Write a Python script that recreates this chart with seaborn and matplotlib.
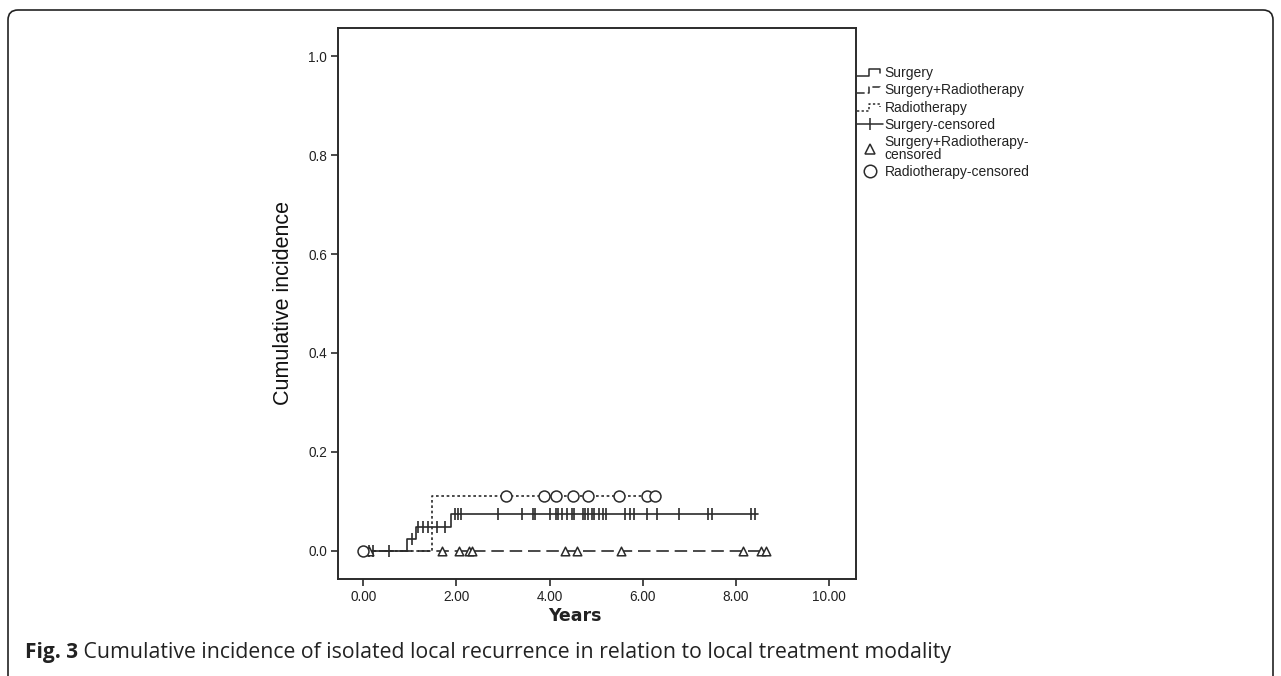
import matplotlib
matplotlib.use("Agg")
import matplotlib.pyplot as plt
import numpy as np
import pandas as pd
import seaborn as sns
from matplotlib.lines import Line2D
from matplotlib.legend_handler import HandlerBase
from matplotlib.patches import FancyBboxPatch
from matplotlib.transforms import IdentityTransform

# step curves (time in years, cumulative incidence)
surg_time = [0.0, 0.94, 1.13, 1.89, 8.48]
surg_ci = [0.0, 0.023, 0.048, 0.075, 0.075]
srt_time = [0.0, 8.65]
srt_ci = [0.0, 0.0]
rt_time = [0.0, 1.47, 6.27]
rt_ci = [0.0, 0.111, 0.111]

# censored observations
surg_cens = [0.12, 0.22, 0.55, 1.04, 1.18, 1.29, 1.39, 1.58, 1.76, 1.97, 2.03, 2.09,
             2.89, 3.40, 3.64, 3.69, 4.01, 4.14, 4.19, 4.26, 4.37, 4.48, 4.53, 4.71,
             4.76, 4.83, 4.91, 4.96, 5.06, 5.14, 5.21, 5.62, 5.73, 5.82, 6.09, 6.30,
             6.77, 7.41, 7.48, 8.32, 8.41]
srt_cens = [0.13, 1.69, 2.05, 2.28, 2.33, 4.33, 4.59, 5.53, 8.15, 8.54, 8.65]
rt_cens = [0.0, 3.07, 3.87, 4.14, 4.51, 4.83, 5.48, 6.10, 6.27]

x_ticks = [0, 2, 4, 6, 8, 10]
y_ticks = [0.0, 0.2, 0.4, 0.6, 0.8, 1.0]

line_col = "#2b2b2b"


def step_level(times, levels, t):
    idx = np.searchsorted(times, t, side="right") - 1
    return np.array(levels)[idx]


sns.set_style("white")
plt.rcParams["font.family"] = ["Liberation Sans", "DejaVu Sans"]

fig = plt.figure(figsize=(12.81, 6.76), dpi=100)
ax = fig.add_axes([0.2639, 0.1435, 0.4044, 0.8151])

curves = [
    ("Surgery", surg_time, surg_ci, "-"),
    ("Surgery+Radiotherapy", srt_time, srt_ci, (0, (7.5, 3.5))),
    ("Radiotherapy", rt_time, rt_ci, (0, (1.6, 1.6))),
]
for name, t, ci, ls in curves:
    d = pd.DataFrame({"t": t, "ci": ci})
    sns.lineplot(data=d, x="t", y="ci", ax=ax, estimator=None, color=line_col,
                 linewidth=1.2, linestyle=ls, drawstyle="steps-post", legend=False)

# censor marks
d_s = pd.DataFrame({"t": surg_cens, "ci": step_level(surg_time, surg_ci, surg_cens)})
sns.scatterplot(data=d_s, x="t", y="ci", ax=ax, marker="|", s=70, color=line_col,
                linewidth=1.2, legend=False, zorder=4)
d_sr = pd.DataFrame({"t": srt_cens, "ci": step_level(srt_time, srt_ci, srt_cens)})
sns.scatterplot(data=d_sr, x="t", y="ci", ax=ax, marker="^", s=38, facecolor="white",
                edgecolor=line_col, linewidth=1.1, legend=False, zorder=4)
d_r = pd.DataFrame({"t": rt_cens, "ci": step_level(rt_time, rt_ci, rt_cens)})
sns.scatterplot(data=d_r, x="t", y="ci", ax=ax, marker="o", s=62, facecolor="white",
                edgecolor=line_col, linewidth=1.1, legend=False, zorder=4)

ax.set_xlim(-0.54, 10.58)
ax.set_ylim(-0.057, 1.057)
ax.set_xticks(x_ticks)
ax.set_xticklabels([f"{v:.2f}" for v in x_ticks])
ax.set_yticks(y_ticks)
ax.set_yticklabels([f"{v:.1f}" for v in y_ticks])
ax.tick_params(axis="both", direction="out", length=5, width=1.2, color=line_col,
               labelsize=9.8, labelcolor="#222222", bottom=True, left=True, pad=3)
for sp in ax.spines.values():
    sp.set_color(line_col)
    sp.set_linewidth(1.4)

ax.set_ylabel("Cumulative incidence", fontsize=15.5, labelpad=10, color="#111111")
ax.set_xlabel("Years", fontsize=12.5, fontweight="bold", family="DejaVu Sans",
              color="#222222")
ax.xaxis.set_label_coords(0.457, -0.05)


class StepHandler(HandlerBase):
    def __init__(self, ls):
        super().__init__()
        self.ls = ls

    def create_artists(self, legend, orig_handle, xdescent, ydescent, width, height,
                       fontsize, trans):
        lo, hi = 0.1 * height, 0.8 * height
        xs = [0, 0.45 * width, 0.45 * width, 0.9 * width, 0.9 * width]
        ys = [lo, lo, hi, hi, 0.45 * height]
        ln = Line2D(np.array(xs) - xdescent, np.array(ys) - ydescent, color=line_col,
                    linewidth=1.1, linestyle=self.ls, transform=trans)
        return [ln]


h_surg = Line2D([], [], color=line_col)
h_srt = Line2D([], [], color=line_col)
h_rt = Line2D([], [], color=line_col)
h_sc = Line2D([], [], color=line_col, linewidth=1.1, marker="|", markersize=9,
              markeredgewidth=1.1)
h_src = Line2D([], [], linestyle="none", marker="^", markersize=7,
               markerfacecolor="white", markeredgecolor=line_col, markeredgewidth=1.1)
h_rc = Line2D([], [], linestyle="none", marker="o", markersize=9,
              markerfacecolor="white", markeredgecolor=line_col, markeredgewidth=1.1)

leg = ax.legend([h_surg, h_srt, h_rt, h_sc, h_src, h_rc],
                ["Surgery", "Surgery+Radiotherapy", "Radiotherapy", "Surgery-censored",
                 "Surgery+Radiotherapy-\ncensored", "Radiotherapy-censored"],
                handler_map={h_surg: StepHandler("-"),
                             h_srt: StepHandler((0, (5, 2))),
                             h_rt: StepHandler((0, (1.5, 1.5)))},
                loc="upper left", bbox_to_anchor=(857 / 1281, 1 - 66 / 676),
                bbox_transform=fig.transFigure, frameon=False, fontsize=10,
                handlelength=1.85, handletextpad=0.15, labelspacing=0.24,
                borderpad=0, borderaxespad=0)
for txt in leg.get_texts():
    txt.set_color("#222222")
    txt.set_linespacing(0.88)

# page frame and caption
frame = FancyBboxPatch((8, -40), 1265, 676 - 10 + 40,
                       boxstyle="round,pad=0,rounding_size=10",
                       transform=IdentityTransform(), facecolor="none",
                       edgecolor="#222222", linewidth=1.2)
fig.patches.append(frame)

cap = fig.text(0.0195, 0.0355, "Fig. 3", fontsize=15, fontweight="bold",
               family="Open Sans", va="center", color="#222222")
ax.annotate(" Cumulative incidence of isolated local recurrence in relation to local "
            "treatment modality", xy=(1, 0.5), xycoords=cap, va="center", ha="left",
            fontsize=15.3, family="Open Sans", color="#222222", annotation_clip=False)

fig.savefig("out.png", dpi=100)
